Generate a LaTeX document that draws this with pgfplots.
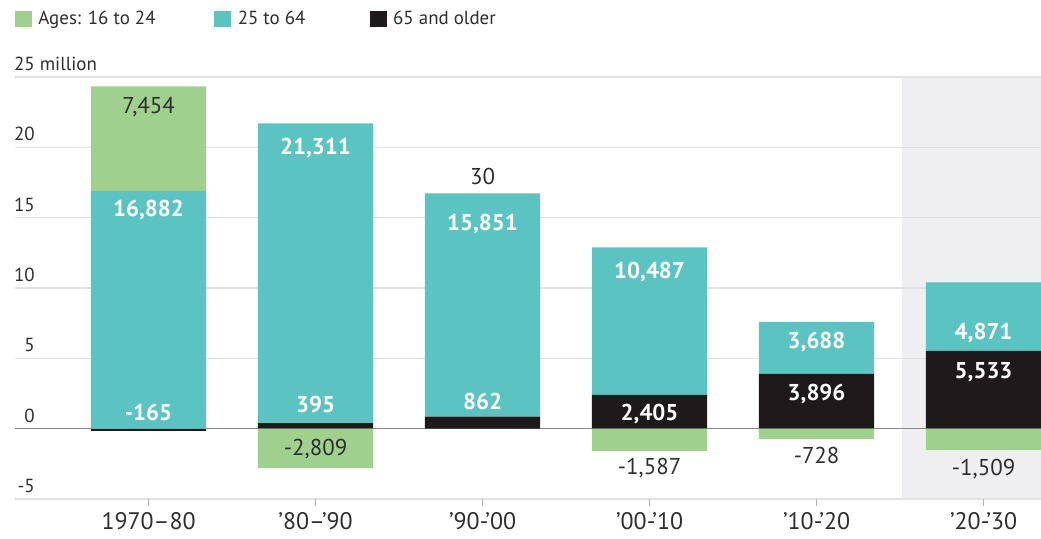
\documentclass[border=0pt]{standalone}
\usepackage{pgfplots}
\usepackage{pgfplotstable}
\pgfplotsset{compat=1.18}
\usepackage{fontspec}
\setmainfont{PT Sans}
\definecolor{cgreen}{HTML}{A0D08D}
\definecolor{cteal}{HTML}{5BC4C2}
\definecolor{cblack}{HTML}{1E1A1C}
\definecolor{cshade}{HTML}{EFEFF1}
\definecolor{cgrid}{HTML}{E2E2E2}
\definecolor{czero}{HTML}{8A8A8A}
\definecolor{ctext}{HTML}{2E2E2E}

\pgfplotstableread{
x blackpos teal greenpos blackneg greenneg
0 0    16882 7454 -165 0
1 395  21311 0    0    -2809
2 862  15851 30   0    0
3 2405 10487 0    0    -1587
4 3896 3688  0    0    -728
5 5533 4871  0    0    -1509
}\datatable

\pgfplotsset{
  frame/.style={
    scale only axis, width=1026bp, height=422bp,
    xmin=-0.8, xmax=5.3437, ymin=-5000, ymax=25000,
  },
  common/.style={frame, ybar stacked, bar width=0.69},
}
\tikzset{
  wl/.style={font=\fontsize{23}{23}\selectfont\bfseries, text=white, inner sep=0pt, text depth=0pt, anchor=center},
  dl/.style={font=\fontsize{23}{23}\selectfont, text=ctext, inner sep=0pt, text depth=0pt, anchor=center},
}

\begin{document}
\begin{tikzpicture}
\begin{axis}[frame, hide axis]
\fill[cshade] (axis cs:4.511,-5000) rectangle (axis cs:5.3437,25000);
\end{axis}
\begin{axis}[common, name=ax,
  axis line style={draw=none},
  scaled y ticks=false,
  ymajorgrids, grid style={draw=cgrid, line width=1.2bp},
  ytick={-5000,0,5000,10000,15000,20000,25000},
  yticklabels={-5,0,5,10,15,20,25\rlap{~million}},
  extra y ticks={0}, extra y tick labels={},
  extra y tick style={grid style={draw=czero, line width=1.4bp}, tick style={draw=none}},
  ytick style={draw=none},
  yticklabel style={anchor=south east, inner sep=0pt, xshift=20bp, yshift=6bp,
    font=\fontsize{19}{19}\selectfont, text=ctext},
  xtick={0,1,2,3,4,5},
  xticklabels={1970–80, ’80–’90, ’90-’00, ’00-’10, ’10-’20, ’20-’30},
  xtick pos=left, xtick align=outside, major tick length=7bp,
  xtick style={draw=gray!60, line width=1bp},
  xticklabel style={font=\fontsize{24}{24}\selectfont, text=ctext, yshift=-3bp},
  legend style={at={([yshift=58bp]axis description cs:0,1)}, anchor=west,
    draw=none, fill=none, inner sep=0pt, outer sep=0pt,
    legend columns=3, font=\fontsize{19}{19}\selectfont, text=ctext,
    nodes={inner sep=0pt},
    /tikz/every odd column/.append style={column sep=7bp}},
  legend cell align=left,
]
\addlegendimage{legend image code/.code={\fill[cgreen] (0bp,-7.5bp) rectangle (16bp,7.5bp);}}
\addlegendimage{legend image code/.code={\fill[cteal] (0bp,-7.5bp) rectangle (16bp,7.5bp);}}
\addlegendimage{legend image code/.code={\fill[cblack] (0bp,-7.5bp) rectangle (16bp,7.5bp);}}
\addplot[fill=cblack, draw=none] table[x=x, y=blackpos]{\datatable};
\addplot[fill=cteal, draw=none] table[x=x, y=teal]{\datatable};
\addplot[fill=cgreen, draw=none] table[x=x, y=greenpos]{\datatable};
\legend{\makebox[176bp][l]{Ages: 16 to 24}, \makebox[132bp][l]{25 to 64}, 65 and older}
\node[anchor=base east, inner sep=0pt, font=\fontsize{18}{18}\selectfont, text=ctext]
  at ([xshift=-7bp, yshift=9bp]rel axis cs:1,1) {PROJECTED};
\end{axis}
\begin{axis}[common, hide axis]
\addplot[fill=cblack, draw=none] table[x=x, y=blackneg]{\datatable};
\addplot[fill=cgreen, draw=none] table[x=x, y=greenneg]{\datatable};
\end{axis}
\begin{axis}[frame, hide axis, clip=false]
\node[dl] at (axis cs:0,23000) {7,454};
\node[wl] at (axis cs:0,15640) {16,882};
\node[wl] at (axis cs:0,1170) {-165};
\node[wl] at (axis cs:1,20050) {21,311};
\node[wl] at (axis cs:1,1740) {395};
\node[dl] at (axis cs:1,-1320) {-2,809};
\node[dl] at (axis cs:2,17950) {30};
\node[wl] at (axis cs:2,14640) {15,851};
\node[wl] at (axis cs:2,1950) {862};
\node[wl] at (axis cs:3,11230) {10,487};
\node[wl] at (axis cs:3,1170) {2,405};
\node[dl] at (axis cs:3,-2670) {-1,587};
\node[wl] at (axis cs:4,6260) {3,688};
\node[wl] at (axis cs:4,2590) {3,896};
\node[dl] at (axis cs:4,-1880) {-728};
\node[wl] at (axis cs:5,6900) {4,871};
\node[wl] at (axis cs:5,4160) {5,533};
\node[dl] at (axis cs:5,-2740) {-1,509};
\end{axis}
\pgfresetboundingbox
\path[use as bounding box] ([xshift=-15bp, yshift=-40bp]ax.south west) rectangle ([yshift=77bp]ax.north east);
\end{tikzpicture}
\end{document}
